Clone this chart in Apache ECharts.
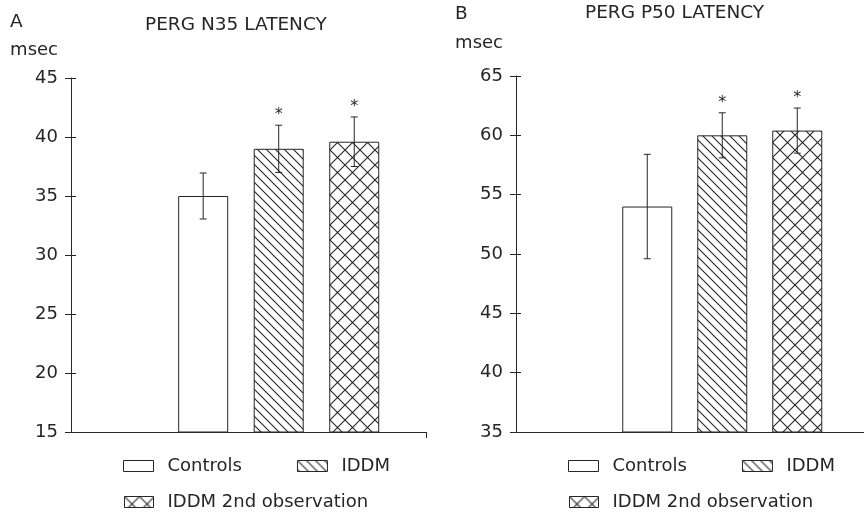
<!DOCTYPE html>
<html>
<head>
<meta charset="utf-8">
<script src="https://cdn.jsdelivr.net/npm/echarts@6/dist/echarts.min.js"></script>
<style>
  html, body { margin: 0; padding: 0; background: #fff; }
  #chart { width: 864px; height: 515px; }
</style>
</head>
<body>
<div id="chart"></div>
<script>
// groups shown in both panels
const groups = ['Controls', 'IDDM', 'IDDM 2nd observation'];
// PERG N35 latency (msec), mean and SD
const n35Mean = [35.0, 39.0, 39.6];
const n35Sd = [1.95, 2.0, 2.1];
// PERG P50 latency (msec), mean and SD
const p50Mean = [54.0, 60.0, 60.4];
const p50Sd = [4.4, 1.9, 1.9];
// significant vs controls
const signif = [false, true, true];
const n35Ticks = [15, 45, 5];
const p50Ticks = [35, 65, 5];

const ink = '#262626';
const font = 'DejaVu Sans';

function makeTile(size, draw) {
  const c = document.createElement('canvas');
  c.width = size; c.height = size;
  const ctx = c.getContext('2d');
  ctx.fillStyle = '#fff';
  ctx.fillRect(0, 0, size, size);
  ctx.strokeStyle = ink;
  ctx.lineWidth = 1.1;
  draw(ctx, size);
  return c;
}
// "\\" hatch
const hatch = makeTile(9, (ctx, s) => {
  ctx.beginPath();
  ctx.moveTo(-1, -1); ctx.lineTo(s + 1, s + 1);
  ctx.moveTo(-1, s - 1); ctx.lineTo(1, s + 1);
  ctx.moveTo(s - 1, -1); ctx.lineTo(s + 1, 1);
  ctx.stroke();
});
// cross hatch
const cross = makeTile(15, (ctx, s) => {
  ctx.beginPath();
  ctx.moveTo(-1, -1); ctx.lineTo(s + 1, s + 1);
  ctx.moveTo(s + 1, -1); ctx.lineTo(-1, s + 1);
  ctx.stroke();
});
const fills = ['#ffffff', { image: hatch, repeat: 'repeat' }, { image: cross, repeat: 'repeat' }];

const chart = echarts.init(document.getElementById('chart'), null, { renderer: 'canvas' });

function yAxes(grid, ticks, nameGap) {
  return [{
    type: 'value', gridIndex: grid, position: 'left',
    min: ticks[0], max: ticks[1], interval: ticks[2],
    name: 'msec', nameLocation: 'end', nameGap: nameGap,
    nameTextStyle: { fontFamily: font, fontSize: 18, color: ink, align: 'right', padding: [0, 13, 0, 0] },
    axisLine: { show: true, onZero: false, lineStyle: { color: ink, width: 1 } },
    axisTick: { show: true, length: 6, lineStyle: { color: ink } },
    axisLabel: { fontFamily: font, fontSize: 18, color: ink, margin: 13 },
    splitLine: { show: false }
  }, {
    type: 'value', gridIndex: grid, position: 'left',
    min: ticks[0], max: ticks[1], interval: ticks[2],
    axisLine: { show: false, onZero: false },
    axisTick: { show: true, inside: true, length: 5, lineStyle: { color: ink } },
    axisLabel: { show: false },
    splitLine: { show: false }
  }];
}

function xAxis(grid, max) {
  return {
    type: 'value', gridIndex: grid, min: -1.75, max: max,
    axisLine: { show: true, onZero: false, lineStyle: { color: ink, width: 1 } },
    axisTick: { show: true, customValues: [max], length: 6, lineStyle: { color: ink } },
    axisLabel: { show: false },
    splitLine: { show: false }
  };
}

function barSeries(grid, means) {
  return groups.map((g, i) => ({
    name: g, type: 'bar',
    xAxisIndex: grid, yAxisIndex: grid * 2,
    barWidth: 50, barGap: '-100%',
    data: [[i, means[i]]],
    itemStyle: { color: fills[i], borderColor: ink, borderWidth: 1 },
    emphasis: { disabled: true },
    animation: false
  }));
}

function errSeries(grid, means, sds) {
  return {
    type: 'custom',
    xAxisIndex: grid, yAxisIndex: grid * 2,
    z: 5,
    data: means.map((m, i) => [i, m, sds[i], signif[i] ? 1 : 0]),
    renderItem: function (params, api) {
      const x = api.value(0), m = api.value(1), sd = api.value(2);
      const hi = api.coord([x, m + sd]);
      const lo = api.coord([x, m - sd]);
      const style = { stroke: ink, lineWidth: 1 };
      const kids = [
        { type: 'line', shape: { x1: hi[0], y1: hi[1], x2: lo[0], y2: lo[1] }, style: style },
        { type: 'line', shape: { x1: hi[0] - 3.5, y1: hi[1], x2: hi[0] + 3.5, y2: hi[1] }, style: style },
        { type: 'line', shape: { x1: lo[0] - 3.5, y1: lo[1], x2: lo[0] + 3.5, y2: lo[1] }, style: style }
      ];
      if (api.value(3)) {
        kids.push({
          type: 'text', x: hi[0], y: hi[1] - 10,
          style: { text: '*', fill: ink, fontSize: 16, fontFamily: font, align: 'center', verticalAlign: 'middle' }
        });
      }
      return { type: 'group', children: kids };
    },
    animation: false
  };
}

function legends(left) {
  const ts = { fontFamily: font, fontSize: 18, color: ink, padding: [0, 0, 0, 9] };
  return [{
    data: [groups[0], groups[1]], left: left, top: 457, padding: 0,
    icon: 'rect', itemWidth: 30, itemHeight: 11, itemGap: 55,
    selectedMode: false, textStyle: ts,
    itemStyle: { borderColor: ink, borderWidth: 1 }
  }, {
    data: [groups[2]], left: left + 1, top: 493, padding: 0,
    icon: 'rect', itemWidth: 29, itemHeight: 11,
    selectedMode: false, textStyle: ts,
    itemStyle: { borderColor: ink, borderWidth: 1 }
  }];
}

const titleStyle = { fontFamily: font, fontSize: 18.5, fontWeight: 'normal', color: ink };

chart.setOption({
  backgroundColor: '#fff',
  animation: false,
  title: [
    { text: 'A', left: 10, top: 13, textStyle: titleStyle, padding: 0 },
    { text: 'PERG N35 LATENCY', left: 145, top: 16, textStyle: titleStyle, padding: 0 },
    { text: 'B', left: 455, top: 5, textStyle: titleStyle, padding: 0 },
    { text: 'PERG P50 LATENCY', left: 585, top: 4, textStyle: titleStyle, padding: 0 }
  ],
  legend: legends(123).concat(legends(568)),
  grid: [
    { left: 71, top: 78, width: 355, height: 354 },
    { left: 516, top: 76, width: 348, height: 356 }
  ],
  xAxis: [xAxis(0, 2.95), xAxis(1, 2.89)],
  yAxis: yAxes(0, n35Ticks, 19).concat(yAxes(1, p50Ticks, 24)),
  series: barSeries(0, n35Mean)
    .concat([errSeries(0, n35Mean, n35Sd)])
    .concat(barSeries(1, p50Mean))
    .concat([errSeries(1, p50Mean, p50Sd)])
});
</script>
</body>
</html>
